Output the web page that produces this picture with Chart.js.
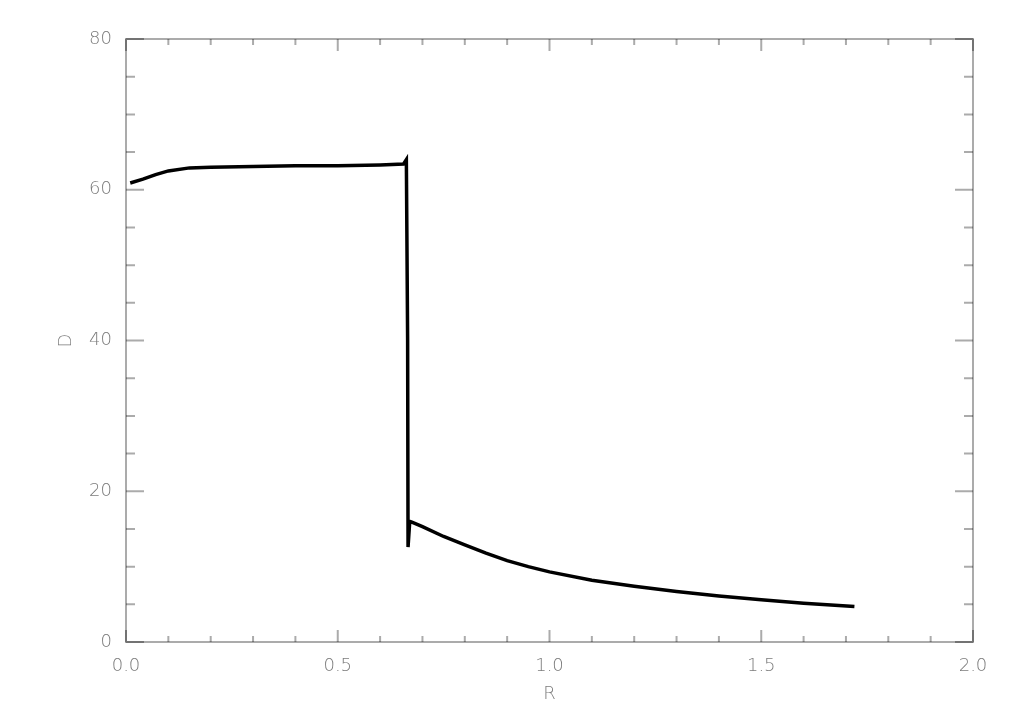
<!DOCTYPE html>
<html>
<head>
<meta charset="utf-8">
<script src="https://cdn.jsdelivr.net/npm/chart.js@4"></script>
<style>
    body { margin: 0; background: #fff; }
    #chart { display: block; }
</style>
</head>
<body>
<canvas id="chart" width="1010" height="722"></canvas>
<script>
// R values and matching D values
const rValues = [0.01, 0.04, 0.07, 0.10, 0.15, 0.20, 0.30, 0.40, 0.50, 0.60, 0.655, 0.662,
    0.665, 0.666, 0.670, 0.675, 0.70, 0.75, 0.80, 0.85, 0.90, 0.95, 1.00, 1.10, 1.20,
    1.30, 1.40, 1.50, 1.60, 1.72];
const dValues = [60.9, 61.4, 62.0, 62.5, 62.9, 63.0, 63.1, 63.2, 63.2, 63.3, 63.4, 64.0,
    40.0, 12.6, 16.0, 15.9, 15.3, 14.0, 12.9, 11.8, 10.8, 10.0, 9.3, 8.2, 7.4,
    6.7, 6.1, 5.6, 5.15, 4.7];

const xTicks = [0.0, 0.5, 1.0, 1.5, 2.0];
const yTicks = [0, 20, 40, 60, 80];

const axisColor = 'rgba(0,0,0,0.33)';
const labelColor = '#7c7c7c';
const labelFont = { family: 'DejaVu Sans', size: 18, weight: 300 };

// Frame with inward ticks on all four sides (IDL style)
const frameTicks = {
    id: 'frameTicks',
    afterDraw(chart) {
        const ctx = chart.ctx;
        const a = chart.chartArea;
        const xs = chart.scales.x;
        const ys = chart.scales.y;
        ctx.save();
        ctx.strokeStyle = axisColor;
        ctx.lineWidth = 2;
        ctx.strokeRect(a.left, a.top, a.right - a.left, a.bottom - a.top);
        ctx.beginPath();
        for (let i = 0; i <= 20; i++) {
            const px = xs.getPixelForValue(i / 10);
            const len = i % 5 === 0 ? 12 : 6;
            ctx.moveTo(px, a.bottom); ctx.lineTo(px, a.bottom - len);
            ctx.moveTo(px, a.top); ctx.lineTo(px, a.top + len);
        }
        for (let i = 0; i <= 16; i++) {
            const py = ys.getPixelForValue(i * 5);
            const len = i % 4 === 0 ? 18 : 9;
            ctx.moveTo(a.left, py); ctx.lineTo(a.left + len, py);
            ctx.moveTo(a.right, py); ctx.lineTo(a.right - len, py);
        }
        ctx.stroke();
        ctx.restore();
    }
};

new Chart(document.getElementById('chart'), {
    type: 'line',
    data: {
        datasets: [{
            data: rValues.map((r, i) => ({ x: r, y: dValues[i] })),
            borderColor: '#000',
            borderWidth: 3.5,
            pointRadius: 0,
            tension: 0,
            fill: false
        }]
    },
    options: {
        responsive: false,
        devicePixelRatio: 1,
        animation: false,
        layout: { padding: { left: 0, top: 39, right: 37, bottom: 0 } },
        plugins: { legend: { display: false }, tooltip: { enabled: false } },
        scales: {
            x: {
                type: 'linear',
                min: 0, max: 2,
                afterFit(scale) { scale.height = 80; },
                afterBuildTicks(scale) { scale.ticks = xTicks.map(v => ({ value: v })); },
                grid: { display: false, drawTicks: false },
                border: { display: false },
                ticks: {
                    padding: 14,
                    color: labelColor,
                    font: labelFont,
                    maxRotation: 0,
                    callback: v => v.toFixed(1)
                },
                title: {
                    display: true,
                    text: 'R',
                    color: labelColor,
                    font: labelFont,
                    padding: { top: 0, bottom: 17 }
                }
            },
            y: {
                type: 'linear',
                min: 0, max: 80,
                afterFit(scale) { scale.width = 126; },
                afterBuildTicks(scale) { scale.ticks = yTicks.map(v => ({ value: v })); },
                grid: { display: false, drawTicks: false },
                border: { display: false },
                ticks: {
                    padding: 14,
                    color: labelColor,
                    font: labelFont,
                    callback: v => String(v)
                },
                title: {
                    display: true,
                    text: 'D',
                    color: labelColor,
                    font: labelFont,
                    padding: { top: 56, bottom: 0 }
                }
            }
        }
    },
    plugins: [frameTicks]
});
</script>
</body>
</html>
